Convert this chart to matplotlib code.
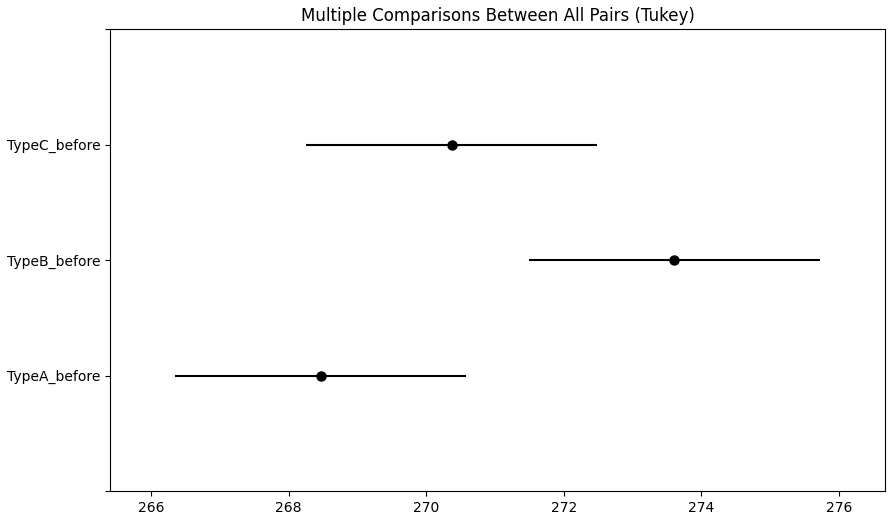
import matplotlib
matplotlib.use("Agg")
import matplotlib.pyplot as plt
import numpy as np

groups = ["TypeA_before", "TypeB_before", "TypeC_before"]
means = [268.462, 273.610, 270.368]
halfwidths = [2.122, 2.122, 2.122]

fig = plt.figure(figsize=(8.96, 5.23), dpi=100)
ax = fig.add_axes([110/896, 1 - 491/523, (885-110)/896, (491-29)/523])
ypos = np.arange(len(means))
ax.errorbar(means, ypos, xerr=halfwidths, marker='o', markersize=6.5,
            linestyle='None', color='k', ecolor='k')
lo = np.array(means) - np.array(halfwidths)
hi = np.array(means) + np.array(halfwidths)
r = hi.max() - lo.min()
ax.set_xlim(lo.min() - r/10, hi.max() + r/10)
ax.set_ylim(-1, len(means))
ax.set_yticks(np.arange(-1, len(means) + 1))
ax.set_yticklabels([''] + groups + [''])
ax.set_title('Multiple Comparisons Between All Pairs (Tukey)')
fig.savefig("out.png", dpi=100)
